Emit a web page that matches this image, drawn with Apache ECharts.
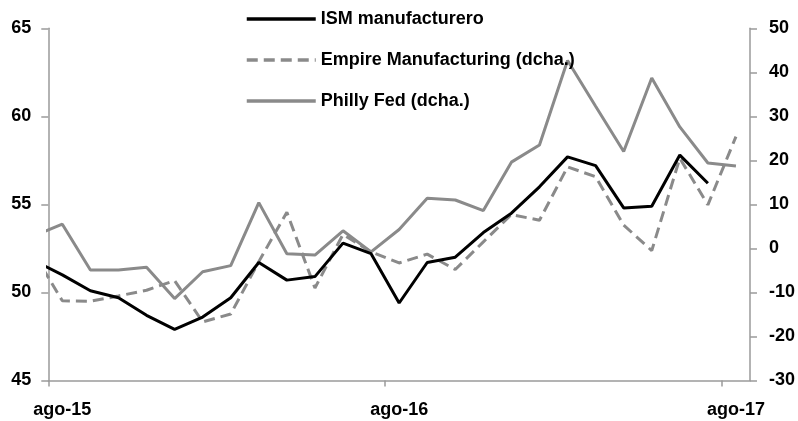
<!DOCTYPE html>
<html>
<head>
<meta charset="utf-8">
<script src="https://cdn.jsdelivr.net/npm/echarts@6/dist/echarts.min.js"></script>
<style>
html,body{margin:0;padding:0;background:#fff;}
#chart{width:798px;height:421px;}
</style>
</head>
<body>
<div id="chart"></div>
<script>
// Monthly observations (index 0 = jul-15, partially outside the axis range)
var months = ['jul-15','ago-15','sep-15','oct-15','nov-15','dic-15','ene-16','feb-16','mar-16','abr-16','may-16','jun-16','jul-16','ago-16','sep-16','oct-16','nov-16','dic-16','ene-17','feb-17','mar-17','abr-17','may-17','jun-17','jul-17','ago-17'];
var ism    = [51.8, 51.0, 50.1, 49.7, 48.7, 47.9, 48.6, 49.7, 51.7, 50.7, 50.9, 52.8, 52.2, 49.4, 51.7, 52.0, 53.4, 54.5, 56.0, 57.7, 57.2, 54.8, 54.9, 57.8, 56.2, null];
var empire = [-1.3, -11.9, -12.0, -10.8, -9.5, -7.3, -16.7, -14.9, -3.0, 8.2, -9.0, 3.2, -0.8, -3.3, -1.3, -4.8, 1.5, 7.7, 6.4, 18.5, 16.3, 5.3, -0.5, 20.5, 9.9, 25.4];
var philly = [2.9, 5.5, -4.9, -4.9, -4.3, -11.4, -5.3, -3.9, 10.4, -1.2, -1.5, 4.0, -0.8, 4.3, 11.4, 11.0, 8.6, 19.6, 23.5, 42.7, 32.3, 22.0, 38.7, 27.6, 19.4, 18.7];
var tickLabels = ['ago-15', 'ago-16', 'ago-17'];
var seriesNames = ['ISM manufacturero', 'Empire Manufacturing (dcha.)', 'Philly Fed (dcha.)'];

// x position: month start of ago-15 = 0, observations at mid-month
function toPoints(arr) {
  return arr.map(function (v, i) { return [i - 0.5, v]; });
}
var labelPos = tickLabels.map(function (l) { return months.indexOf(l) - 0.5; });
var tickPos = tickLabels.map(function (l) { return months.indexOf(l) - 1; });

var FONT = "'Liberation Sans', Arial, sans-serif";
var axisColor = '#9a9a9a';
var grayLine = '#8a8a8a';

var chart = echarts.init(document.getElementById('chart'), null, {renderer: 'canvas'});
chart.setOption({
  animation: false,
  backgroundColor: '#ffffff',
  grid: {left: 48.3, right: 44.7, top: 28.3, bottom: 40.5, containLabel: false},
  legend: {
    orient: 'vertical',
    left: 245,
    top: 10,
    padding: 0,
    itemWidth: 69,
    itemHeight: 4,
    itemGap: 23,
    itemStyle: {opacity: 0},
    lineStyle: {width: 3.5},
    data: seriesNames,
    textStyle: {fontFamily: FONT, fontWeight: 'bold', fontSize: 18, color: '#000'}
  },
  xAxis: {
    type: 'value',
    min: 0,
    max: months.length - 1,
    splitLine: {show: false},
    axisLine: {show: true, onZero: false, lineStyle: {color: axisColor, width: 1.5}},
    axisTick: {show: true, length: 6, customValues: tickPos, lineStyle: {color: axisColor, width: 1.5}},
    axisLabel: {
      customValues: labelPos,
      margin: 21,
      fontFamily: FONT, fontWeight: 'bold', fontSize: 18, color: '#000',
      formatter: function (v) {
        var idx = labelPos.indexOf(v);
        return idx >= 0 ? tickLabels[idx] : '';
      }
    }
  },
  yAxis: [
    {
      type: 'value', position: 'left', min: 45, max: 65, interval: 5,
      splitLine: {show: false},
      axisLine: {show: true, lineStyle: {color: axisColor, width: 1.5}},
      axisTick: {show: true, length: 7, lineStyle: {color: axisColor, width: 1.5}},
      axisLabel: {margin: 17, fontFamily: FONT, fontWeight: 'bold', fontSize: 18, color: '#000'}
    },
    {
      type: 'value', position: 'right', min: -30, max: 50, interval: 10,
      splitLine: {show: false},
      axisLine: {show: true, lineStyle: {color: axisColor, width: 1.5}},
      axisTick: {show: true, length: 7, lineStyle: {color: axisColor, width: 1.5}},
      axisLabel: {margin: 19, fontFamily: FONT, fontWeight: 'bold', fontSize: 18, color: '#000'}
    }
  ],
  series: [
    {
      name: seriesNames[0], type: 'line', yAxisIndex: 0, data: toPoints(ism),
      symbol: 'none', clip: true, connectNulls: false,
      lineStyle: {color: '#000000', width: 3}, itemStyle: {color: '#000000'}, z: 3
    },
    {
      name: seriesNames[1], type: 'line', yAxisIndex: 1, data: toPoints(empire),
      symbol: 'none', clip: true,
      lineStyle: {color: grayLine, width: 3, type: [11, 6]}, itemStyle: {color: grayLine}, z: 2
    },
    {
      name: seriesNames[2], type: 'line', yAxisIndex: 1, data: toPoints(philly),
      symbol: 'none', clip: true,
      lineStyle: {color: grayLine, width: 3}, itemStyle: {color: grayLine}, z: 1
    }
  ]
});
</script>
</body>
</html>
